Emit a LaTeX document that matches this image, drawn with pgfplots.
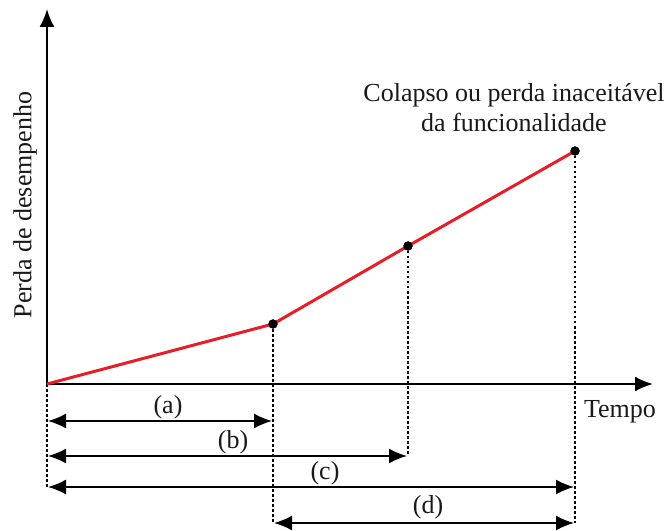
\documentclass[border=0pt]{standalone}
\usepackage{pgfplots}
\pgfplotsset{compat=1.18}
\usepackage{fontspec}
\setmainfont{Liberation Serif}
\usetikzlibrary{arrows.meta}
\definecolor{lred}{RGB}{230,30,40}
\begin{document}
\begin{tikzpicture}[>={Latex[length=18bp,width=15bp]}]
\begin{axis}[
  scale only axis, width=670bp, height=529bp,
  xmin=0, xmax=670, ymin=0, ymax=529,
  hide axis, clip=false,
]
\path (axis cs:0,0) rectangle (axis cs:670,529);
% axes
\draw[line width=2bp, ->] (axis cs:47,145) -- (axis cs:47,520);
\draw[line width=2bp, ->] (axis cs:47,145) -- (axis cs:653,145);
% dotted guides
\draw[line width=1.6bp, dash pattern=on 2.5bp off 2.5bp] (axis cs:47,145) -- (axis cs:47,42);
\draw[line width=1.6bp, dash pattern=on 2.5bp off 2.5bp] (axis cs:273,205) -- (axis cs:273,6);
\draw[line width=1.6bp, dash pattern=on 2.5bp off 2.5bp] (axis cs:408,283) -- (axis cs:408,75);
\draw[line width=1.6bp, dash pattern=on 2.5bp off 2.5bp] (axis cs:575,378) -- (axis cs:575,6);
% data
\addplot[color=lred, line width=3bp, mark=none] coordinates {(47,145) (273,205) (408,283) (575,378)};
\addplot[only marks, mark=*, mark size=4.5bp, black] coordinates {(273,205) (408,283) (575,378)};
% interval arrows
\draw[line width=1.8bp, <->] (axis cs:48,108) -- (axis cs:272,108);
\draw[line width=1.8bp, <->] (axis cs:48,73) -- (axis cs:407,73);
\draw[line width=1.8bp, <->] (axis cs:48,42) -- (axis cs:574,42);
\draw[line width=1.8bp, <->] (axis cs:274,6) -- (axis cs:574,6);
% labels
\begin{scope}[every node/.style={font=\fontsize{26bp}{30bp}\selectfont, inner sep=0pt, text=black!90}]
\node at (axis cs:168,122) {(a)};
\node at (axis cs:233,87) {(b)};
\node at (axis cs:325,56) {(c)};
\node at (axis cs:428,22) {(d)};
\node at (axis cs:620,117) {Tempo};
\node[rotate=90] at (axis cs:25,324) {Perda de desempenho};
\node[align=center] at (axis cs:514,421) {Colapso ou perda inaceitável\\da funcionalidade};
\end{scope}
\end{axis}
\end{tikzpicture}
\end{document}
